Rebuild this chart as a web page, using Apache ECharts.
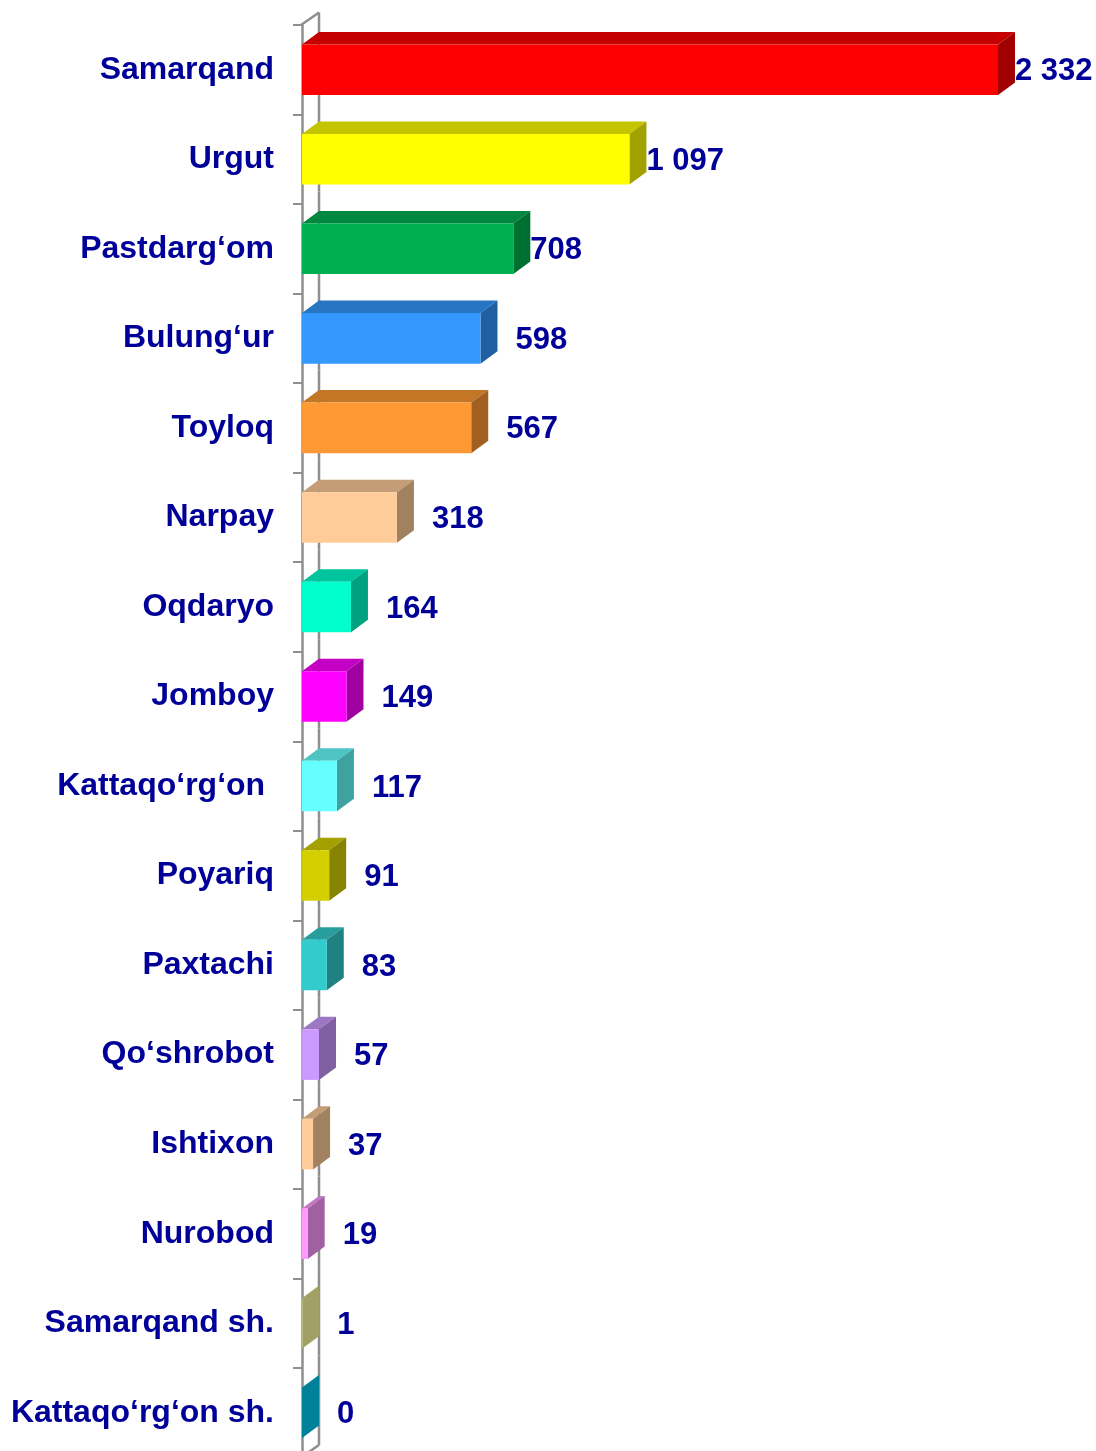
<!DOCTYPE html>
<html>
<head>
<meta charset="utf-8">
<script src="https://cdn.jsdelivr.net/npm/echarts@6/dist/echarts.min.js"></script>
<style>
html,body{margin:0;padding:0;background:#fff;overflow:hidden;}
#chart{width:1096px;height:1462px;}
</style>
</head>
<body>
<div id="chart"></div>
<script>
const categories = [
  "Samarqand", "Urgut", "Pastdarg‘om", "Bulung‘ur", "Toyloq", "Narpay",
  "Oqdaryo", "Jomboy", "Kattaqo‘rg‘on ", "Poyariq", "Paxtachi",
  "Qo‘shrobot", "Ishtixon", "Nurobod", "Samarqand sh.", "Kattaqo‘rg‘on sh."
];
const values = [2332, 1097, 708, 598, 567, 318, 164, 149, 117, 91, 83, 57, 37, 19, 1, 0];
const frontColors = [
  "#FF0000", "#FFFF00", "#00B050", "#3399FF", "#FF9933", "#FFCC99",
  "#00FFCC", "#FF00FF", "#66FFFF", "#D4D000", "#33CCCC",
  "#CC99FF", "#FFCC99", "#FF99FF", "#FFFFA0", "#00CCF4"
];

const DX = 17, DY = 12.5;
const AXIS_COLOR = "#8f8f8f";
const LABEL_COLOR = "#000099";
const FONT = '"Liberation Sans", Arial, sans-serif';

function shade(hex, f) {
  const n = parseInt(hex.slice(1), 16);
  const r = Math.round(((n >> 16) & 255) * f);
  const g = Math.round(((n >> 8) & 255) * f);
  const b = Math.round((n & 255) * f);
  return "rgb(" + r + "," + g + "," + b + ")";
}
function fmt(v) {
  return String(v).replace(/\B(?=(\d{3})+(?!\d))/g, " ");
}

function renderItem(params, api) {
  const idx = params.dataIndex;
  const v = api.value(0);
  const cat = api.value(1);
  const start = api.coord([0, cat]);
  const end = api.coord([v, cat]);
  const band = api.size([0, 1])[1];
  const h = band * 0.565;
  const x0 = start[0], x1 = end[0];
  const yc = start[1];
  const yt = yc - h / 2, yb = yc + h / 2;
  const front = frontColors[idx];
  const children = [];
  const lineStyle = { stroke: AXIS_COLOR, lineWidth: 2.5, fill: null };
  // back wall line segment
  children.push({
    type: "line",
    shape: { x1: x0 + DX, y1: yc - band / 2 - DY, x2: x0 + DX, y2: yc + band / 2 - DY },
    style: lineStyle
  });
  if (idx === 0) {
    children.push({
      type: "line",
      shape: { x1: x0 - 1, y1: yc - band / 2, x2: x0 + DX, y2: yc - band / 2 - DY },
      style: lineStyle
    });
  }
  if (idx === params.dataInsideLength - 1) {
    children.push({
      type: "line",
      shape: { x1: x0 - 1, y1: yc + band / 2, x2: x0 + DX, y2: yc + band / 2 - DY },
      style: lineStyle
    });
  }
  // top face
  children.push({
    type: "polygon",
    shape: { points: [[x0, yt], [x0 + DX, yt - DY], [x1 + DX, yt - DY], [x1, yt]] },
    style: { fill: shade(front, 0.77) }
  });
  // side face
  children.push({
    type: "polygon",
    shape: { points: [[x1, yt], [x1 + DX, yt - DY], [x1 + DX, yb - DY], [x1, yb]] },
    style: { fill: shade(front, 0.63) }
  });
  // front face
  children.push({
    type: "rect",
    shape: { x: x0, y: yt, width: Math.max(x1 - x0, 0), height: h },
    style: { fill: front }
  });
  // value label
  const gap = v >= 700 ? 0 : 18;
  children.push({
    type: "text",
    style: {
      text: fmt(v),
      x: x1 + DX + gap,
      y: yc + 2,
      align: "left",
      verticalAlign: "middle",
      fill: LABEL_COLOR,
      font: "bold 31px " + FONT
    }
  });
  return { type: "group", children: children };
}

const chart = echarts.init(document.getElementById("chart"), null, { renderer: "canvas" });
chart.setOption({
  animation: false,
  backgroundColor: "#ffffff",
  grid: { left: 302, top: 25, width: 776, height: 1432.5, containLabel: false },
  xAxis: {
    type: "value", min: 0, max: 2600, show: false
  },
  yAxis: {
    type: "category",
    data: categories,
    inverse: true,
    axisLine: { show: true, lineStyle: { color: AXIS_COLOR, width: 2.5 } },
    axisTick: { show: true, length: 9, lineStyle: { color: AXIS_COLOR, width: 2 } },
    axisLabel: {
      margin: 28,
      color: LABEL_COLOR,
      fontFamily: FONT,
      fontWeight: "bold",
      fontSize: 32,
      padding: [12, 0, 0, 0]
    },
    splitLine: { show: false }
  },
  series: [{
    type: "custom",
    renderItem: renderItem,
    clip: false,
    encode: { x: 0, y: 1 },
    data: values.map((v, i) => [v, i])
  }]
});
</script>
</body>
</html>
